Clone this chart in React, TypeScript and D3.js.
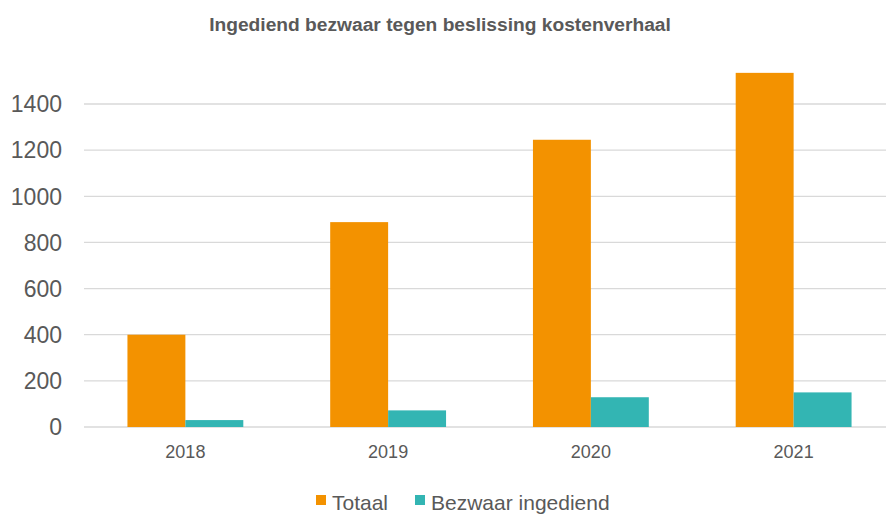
import React from "react";
import * as d3 from "d3";

const years = ["2018", "2019", "2020", "2021"];
const seriesNames = ["Totaal", "Bezwaar ingediend"];
const totaal = [400, 888, 1245, 1535];
const bezwaar = [30, 72, 129, 150];
const yTicks = [0, 200, 400, 600, 800, 1000, 1200, 1400];

const colors = ["#F39200", "#33B5B3"];
const textColor = "#595959";
const gridColor = "#D9D9D9";

const width = 886;
const height = 515;

const App: React.FC = () => {
  const x0 = d3.scaleBand().domain(years).range([84, 895]).padding(0);
  const x1 = d3
    .scaleBand()
    .domain(seriesNames)
    .range([0, x0.bandwidth()])
    .paddingInner(0)
    .paddingOuter(0.75);
  const y = d3.scaleLinear().domain([0, 1400]).range([427, 104]);

  const values = [totaal, bezwaar];

  return (
    <svg
      width={width}
      height={height}
      style={{ position: "absolute", left: 0, top: 0, overflow: "hidden" }}
      fontFamily="'Liberation Sans', Arial, sans-serif"
    >
      <rect width={width} height={height} fill="#ffffff" />
      <text
        x={440}
        y={31}
        textAnchor="middle"
        fontSize={19.2}
        fontWeight="bold"
        fill={textColor}
      >
        Ingediend bezwaar tegen beslissing kostenverhaal
      </text>

      {/* gridlines + y labels */}
      {yTicks.map((t) => (
        <g key={t}>
          <line
            x1={84}
            x2={width}
            y1={y(t)}
            y2={y(t)}
            stroke={gridColor}
            strokeWidth={1.3}
          />
          <text
            x={62}
            y={y(t)}
            dy="0.36em"
            textAnchor="end"
            fontSize={23}
            fill={textColor}
          >
            {t}
          </text>
        </g>
      ))}

      {/* bars */}
      {years.map((yr, i) => (
        <g key={yr} transform={`translate(${x0(yr)},0)`}>
          {seriesNames.map((s, j) => (
            <rect
              key={s}
              x={x1(s)}
              y={y(values[j][i])}
              width={x1.bandwidth()}
              height={y(0) - y(values[j][i])}
              fill={colors[j]}
            />
          ))}
          <text
            x={x0.bandwidth() / 2}
            y={458}
            textAnchor="middle"
            fontSize={18}
            fill={textColor}
          >
            {yr}
          </text>
        </g>
      ))}

      {/* legend */}
      {seriesNames.map((s, j) => {
        const lx = j === 0 ? 316 : 415;
        return (
          <g key={s}>
            <rect x={lx} y={495} width={10} height={10} fill={colors[j]} />
            <text x={lx + 16} y={510} fontSize={21} fill={textColor}>
              {s}
            </text>
          </g>
        );
      })}
    </svg>
  );
};

export default App;
